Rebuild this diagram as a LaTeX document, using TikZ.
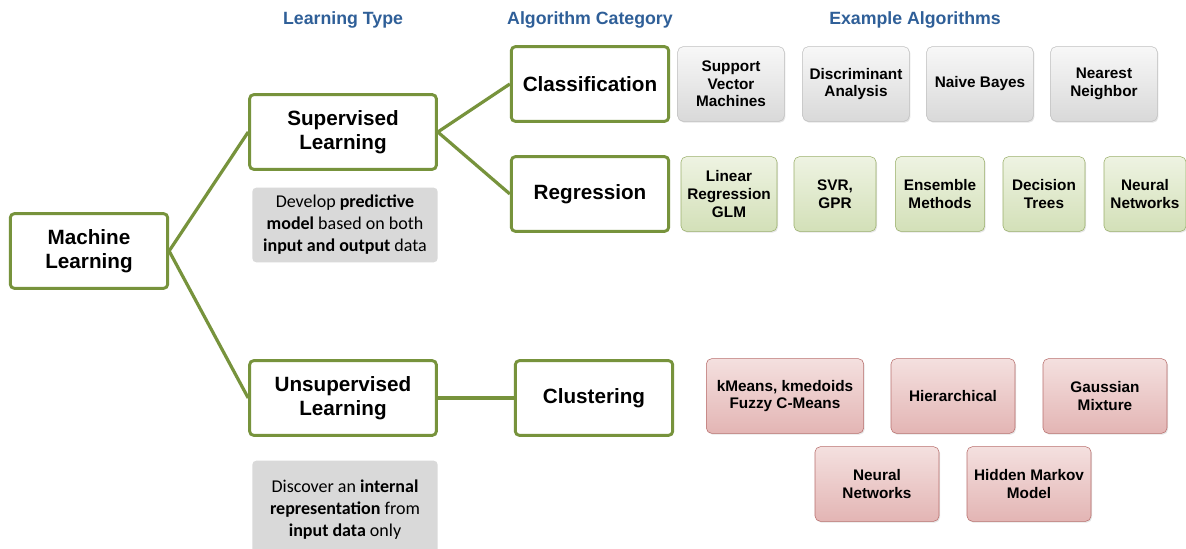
\documentclass[tikz,border=0pt]{standalone}
\usepackage{fontspec}
\setmainfont{Liberation Sans}
\newfontfamily\descfont{Carlito}
\usetikzlibrary{shadows}
\definecolor{olivegreen}{HTML}{77933C}
\definecolor{headblue}{HTML}{2F5F98}
\definecolor{descgray}{HTML}{D9D9D9}
\definecolor{pinktop}{HTML}{F4E0DF}
\definecolor{pinkbot}{HTML}{E3B5B4}
\definecolor{pinkline}{HTML}{B86E6C}
\definecolor{greentop}{HTML}{EEF3E2}
\definecolor{greenbot}{HTML}{D3E0B8}
\definecolor{greenline}{HTML}{9AAF6A}
\begin{document}
\begin{tikzpicture}[x=0.75pt,y=-0.75pt,
  main/.style={draw=olivegreen,line width=2.2pt,fill=white,rounded corners=3pt,align=center,
    font=\fontsize{15.5}{18}\selectfont\bfseries,minimum width=118pt,minimum height=56pt,inner sep=2pt},
  link/.style={draw=olivegreen,line width=2.4pt},
  head/.style={text=headblue,font=\fontsize{13.3}{16}\selectfont\bfseries},
  desc/.style={fill=descgray,rounded corners=3pt,align=center,minimum width=139pt,
    font=\descfont\fontsize{13.5}{16.5}\selectfont},
  algo/.style={rounded corners=4pt,align=center,minimum height=56pt,inner sep=1pt,
    font=\fontsize{11.5}{13.2}\selectfont\bfseries,
    drop shadow={opacity=0.2,shadow xshift=0.8pt,shadow yshift=-1pt}},
  grayalgo/.style={algo,draw=black!25,top color=black!3,bottom color=black!15,minimum width=80pt},
  greenalgo/.style={algo,draw=greenline,top color=greentop,bottom color=greenbot},
  pinkalgo/.style={algo,draw=pinkline,top color=pinktop,bottom color=pinkbot,minimum width=93pt}]
\useasboundingbox[fill=white] (0,0) rectangle (1186,549);
% column heads
\node[head] (H1) at (343,20) {Learning Type};
\node[head] (H2) at (590,20) {Algorithm Category};
\node[head] (H3) at (915,20) {Example Algorithms};
% tree
\node[main] (ML) at (89,251) {Machine\\Learning};
\node[main,minimum width=140pt] (Sup) at (343,132) {Supervised\\Learning};
\node[main,minimum width=140pt] (Uns) at (343,398) {Unsupervised\\Learning};
\node[main] (Cla) at (590,84) {Classification};
\node[main] (Reg) at (590,194) {Regression};
\node[main] (Clu) at (594,398) {Clustering};
\draw[link] (ML.east) -- (Sup.west);
\draw[link] (ML.east) -- (Uns.west);
\draw[link] (Sup.east) -- (Cla.west);
\draw[link] (Sup.east) -- (Reg.west);
\draw[link] (Uns.east) -- (Clu.west);
% descriptions
\node[desc,minimum height=56pt] (SupD) at (345,225) {Develop \textbf{predictive}\\\textbf{model} based on both\\\textbf{input and output} data};
\node[desc,minimum height=74pt] (UnsD) at (345,510) {Discover an \textbf{internal}\\\textbf{representation} from\\\textbf{input data} only};
% classification
\node[grayalgo] (SVM) at (731,84) {Support\\Vector\\Machines};
\node[grayalgo] (DA) at (856,84) {Discriminant\\Analysis};
\node[grayalgo] (NB) at (980,84) {Naive Bayes};
\node[grayalgo] (NN) at (1104,84) {Nearest\\Neighbor};
% regression
\node[greenalgo,minimum width=72pt] (LR) at (729,194) {Linear\\Regression\\GLM};
\node[greenalgo,minimum width=61.5pt] (SVR) at (835,194) {SVR,\\GPR};
\node[greenalgo,minimum width=67pt] (EM) at (940,194) {Ensemble\\Methods};
\node[greenalgo,minimum width=61.5pt] (DT) at (1044,194) {Decision\\Trees};
\node[greenalgo,minimum width=61.5pt] (RNN) at (1145,194) {Neural\\Networks};
% clustering
\node[pinkalgo,minimum width=118pt] (KM) at (785,396) {kMeans, kmedoids\\Fuzzy C-Means};
\node[pinkalgo] (HC) at (953,396) {Hierarchical};
\node[pinkalgo] (GM) at (1105,396) {Gaussian\\Mixture};
\node[pinkalgo] (CNN) at (877,484) {Neural\\Networks};
\node[pinkalgo] (HMM) at (1029,484) {Hidden Markov\\Model};
\end{tikzpicture}
\end{document}
